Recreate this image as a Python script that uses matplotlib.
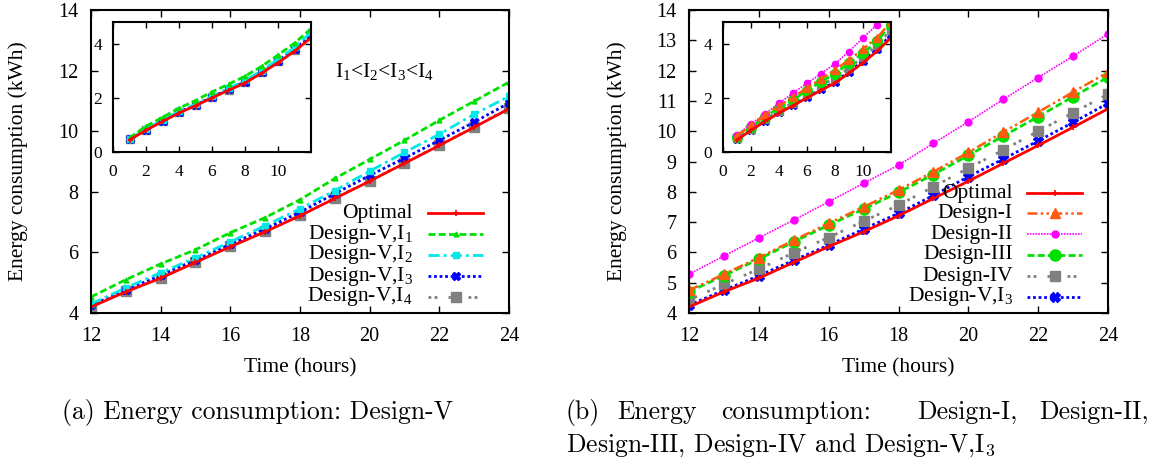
import matplotlib
matplotlib.use('Agg')
import matplotlib.pyplot as plt

plt.rcParams['font.family'] = ['Liberation Serif', 'DejaVu Serif']
plt.rcParams['mathtext.fontset'] = 'custom'
plt.rcParams['mathtext.rm'] = 'Liberation Serif'
plt.rcParams['mathtext.it'] = 'Liberation Serif'

# ---- data ----
hours = [12, 13, 14, 15, 16, 17, 18, 19, 20, 21, 22, 23, 24]
inset_hours = [1, 2, 3, 4, 5, 6, 7, 8, 9, 10, 11, 12]

optimal = [4.20, 4.70, 5.15, 5.67, 6.19, 6.68, 7.21, 7.78, 8.35, 8.94, 9.53, 10.13, 10.74]
dv_i1 = [4.53, 5.10, 5.62, 6.09, 6.65, 7.15, 7.74, 8.44, 9.07, 9.70, 10.36, 10.99, 11.62]
dv_i2 = [4.30, 4.83, 5.33, 5.82, 6.35, 6.88, 7.44, 8.04, 8.68, 9.30, 9.90, 10.56, 11.15]
dv_i3 = [4.25, 4.76, 5.25, 5.75, 6.27, 6.78, 7.33, 7.94, 8.54, 9.11, 9.70, 10.30, 10.93]
dv_i4 = [4.21, 4.71, 5.16, 5.68, 6.20, 6.70, 7.23, 7.79, 8.36, 8.95, 9.54, 10.15, 10.76]

design_1 = [4.75, 5.28, 5.83, 6.40, 6.96, 7.50, 8.06, 8.66, 9.30, 9.97, 10.63, 11.29, 11.95]
design_2 = [5.28, 5.88, 6.48, 7.07, 7.67, 8.28, 8.88, 9.60, 10.31, 11.05, 11.77, 12.48, 13.21]
design_3 = [4.70, 5.23, 5.78, 6.35, 6.90, 7.43, 7.98, 8.57, 9.20, 9.84, 10.48, 11.14, 11.78]
design_4 = [4.43, 4.95, 5.45, 5.99, 6.49, 7.03, 7.56, 8.17, 8.78, 9.38, 10.00, 10.61, 11.22]
design_5 = [4.26, 4.75, 5.23, 5.74, 6.24, 6.77, 7.29, 7.88, 8.50, 9.08, 9.68, 10.29, 10.92]

optimal_in = [0.45, 0.80, 1.13, 1.44, 1.71, 2.00, 2.28, 2.55, 2.91, 3.30, 3.72, 4.22]
dv_i1_in = [0.52, 0.95, 1.28, 1.62, 1.90, 2.22, 2.50, 2.80, 3.16, 3.58, 4.02, 4.55]
dv_i2_in = [0.48, 0.84, 1.18, 1.50, 1.77, 2.06, 2.35, 2.64, 3.00, 3.42, 3.86, 4.42]
dv_i3_in = [0.47, 0.82, 1.16, 1.48, 1.74, 2.03, 2.31, 2.59, 2.96, 3.37, 3.80, 4.32]
dv_i4_in = [0.47, 0.81, 1.15, 1.46, 1.72, 2.02, 2.30, 2.58, 2.95, 3.35, 3.75, 4.27]

design_1_in = [0.60, 0.98, 1.36, 1.70, 2.03, 2.36, 2.70, 3.03, 3.40, 3.80, 4.22, 4.80]
design_2_in = [0.63, 1.04, 1.41, 1.80, 2.17, 2.54, 2.89, 3.26, 3.71, 4.21, 4.70, 5.25]
design_3_in = [0.57, 0.91, 1.31, 1.62, 1.93, 2.27, 2.60, 2.89, 3.28, 3.65, 4.09, 4.70]
design_4_in = [0.50, 0.86, 1.20, 1.52, 1.82, 2.13, 2.45, 2.75, 3.10, 3.50, 3.95, 4.50]
design_5_in = dv_i3_in

labels_a = ['Optimal', 'Design-V,I$_1$', 'Design-V,I$_2$', 'Design-V,I$_3$', 'Design-V,I$_4$']
labels_b = ['Optimal', 'Design-I', 'Design-II', 'Design-III', 'Design-IV', 'Design-V,I$_3$']

# ---- styles (gnuplot look) ----
st_opt = dict(color='#ff0000', ls='-', lw=2.0, marker='+', ms=4, mew=1.2)
st_i1 = dict(color='#00e000', ls=(0, (2.5, 1.2)), lw=2.0, marker='^', ms=3.5)
st_i2 = dict(color='#00e8e8', ls=(0, (4, 1.5, 1, 1.5)), lw=2.0, marker='s', ms=5)
st_i3 = dict(color='#0000ff', ls=(0, (1, 1)), lw=2.0, marker='X', ms=6)
st_i4 = dict(color='#808080', ls=(0, (1, 1.2, 1, 4)), lw=2.0, marker='s', ms=7)
st_d1 = dict(color='#ff5a10', ls=(0, (4, 1.3, 1, 1.3, 1, 1.3)), lw=1.8, marker='^', ms=7)
st_d2 = dict(color='#ff00ff', ls=(0, (1, 0.7)), lw=1.2, marker='o', ms=5)
st_d3 = dict(color='#00e000', ls=(0, (2.5, 1.2)), lw=2.0, marker='o', ms=8)
st_d4 = dict(color='#808080', ls=(0, (1, 1.2, 1, 4)), lw=2.0, marker='s', ms=7)
st_d5 = dict(color='#0000ff', ls=(0, (1, 1)), lw=2.0, marker='X', ms=7)

W, H = 1162, 465
fig = plt.figure(figsize=(W / 100, H / 100), dpi=100)


def rect(x0, y0, x1, y1):
    return [x0 / W, 1 - y1 / H, (x1 - x0) / W, (y1 - y0) / H]


def gnuplot_axes(ax, lw=1.5):
    for s in ax.spines.values():
        s.set_linewidth(lw)
    ax.tick_params(direction='in', top=True, right=True, length=5, width=1.0)


def draw_key(ax, box, labels, styles, rows, text_right, line_x0, line_x1):
    # gnuplot style key: right aligned text, line sample to the right
    x0, y0, x1, y1 = box
    tx = (text_right - x0) / (x1 - x0)
    lx0 = (line_x0 - x0) / (x1 - x0)
    lx1 = (line_x1 - x0) / (x1 - x0)
    for lab, st, ry in zip(labels, styles, rows):
        yy = (y1 - ry) / (y1 - y0)
        ax.text(tx, yy, lab, transform=ax.transAxes, ha='right', va='center', fontsize=15.5)
        ax.plot([lx0, lx1], [yy, yy], transform=ax.transAxes, clip_on=False,
                color=st['color'], ls=st['ls'], lw=st['lw'])
        ax.plot([(lx0 + lx1) / 2], [yy], transform=ax.transAxes, clip_on=False,
                color=st['color'], marker=st['marker'], ms=st['ms'],
                mew=st.get('mew', 1.0), ls='none')


def main_axes(box, series, styles, yticks, ylab_x):
    ax = fig.add_axes(rect(*box))
    for ys, st in zip(series[::-1], styles[::-1]):
        ax.plot(hours, ys, **st)
    ax.set_xlim(12, 24)
    ax.set_ylim(4, 14)
    ax.set_xticks(range(12, 25, 2))
    ax.set_yticks(yticks)
    gnuplot_axes(ax)
    ax.tick_params(labelsize=14.5)
    ax.tick_params(axis='x', pad=10)
    ax.tick_params(axis='y', pad=9)
    ax.set_xlabel('Time (hours)', fontsize=15.5)
    ax.set_ylabel('Energy consumption (kWh)', fontsize=15.5)
    ax.xaxis.set_label_coords(0.5, (box[3] - 358) / (box[3] - box[1]))
    ax.yaxis.set_label_coords((ylab_x - box[0]) / (box[2] - box[0]), 0.5)
    return ax


def inset_axes(box, series, styles):
    ax = fig.add_axes(rect(*box))
    for ys, st in zip(series[::-1], styles[::-1]):
        s = dict(st)
        s['ms'] = s['ms'] * 0.9
        ax.plot(inset_hours, ys, **s)
    ax.set_xlim(0, 12)
    ax.set_ylim(0, 4.8)
    ax.set_xticks(range(0, 11, 2))
    ax.set_yticks([0, 2, 4])
    gnuplot_axes(ax)
    ax.tick_params(labelsize=12.5, length=4)
    ax.tick_params(axis='x', pad=9)
    ax.tick_params(axis='y', pad=8)
    return ax


# ---- (a) ----
box_a = (91, 10, 509, 313)
styles_a = [st_opt, st_i1, st_i2, st_i3, st_i4]
ax1 = main_axes(box_a, [optimal, dv_i1, dv_i2, dv_i3, dv_i4], styles_a, range(4, 15, 2), 28)
fig.text(335 / W, 1 - 72 / H, 'I$_1$<I$_2$<I$_3$<I$_4$', fontsize=15.5, va='center')
draw_key(ax1, box_a, labels_a, styles_a, [213, 234, 255, 276, 297], 413, 428, 483)
inset_axes((113, 22, 311, 152), [optimal_in, dv_i1_in, dv_i2_in, dv_i3_in, dv_i4_in], styles_a)

# ---- (b) ----
box_b = (689, 10, 1108, 313)
styles_b = [st_opt, st_d1, st_d2, st_d3, st_d4, st_d5]
ax2 = main_axes(box_b, [optimal, design_1, design_2, design_3, design_4, design_5],
                styles_b, range(4, 15, 1), 627)
draw_key(ax2, box_b, labels_b, styles_b, [193, 213, 234, 255, 276, 297], 1013, 1027, 1082)
inset_axes((723, 22, 891, 152),
           [optimal_in, design_1_in, design_2_in, design_3_in, design_4_in, design_5_in], styles_b)

# ---- captions ----
cap = dict(family='cmr10', math_fontfamily='cm', fontsize=18.5, va='center')
fig.text(257 / W, 1 - 412 / H, '(a) Energy consumption: Design-V', ha='center', **cap)
for word, px in [('(b)', 566), ('Energy', 617), ('consumption:', 721),
                 ('Design-I,', 917), ('Design-II,', 1039)]:
    fig.text(px / W, 1 - 412 / H, word, ha='left', **cap)
fig.text(566 / W, 1 - 445 / H, 'Design-III, Design-IV and Design-V,I$_3$', ha='left', **cap)

fig.savefig('out.png', dpi=100)
